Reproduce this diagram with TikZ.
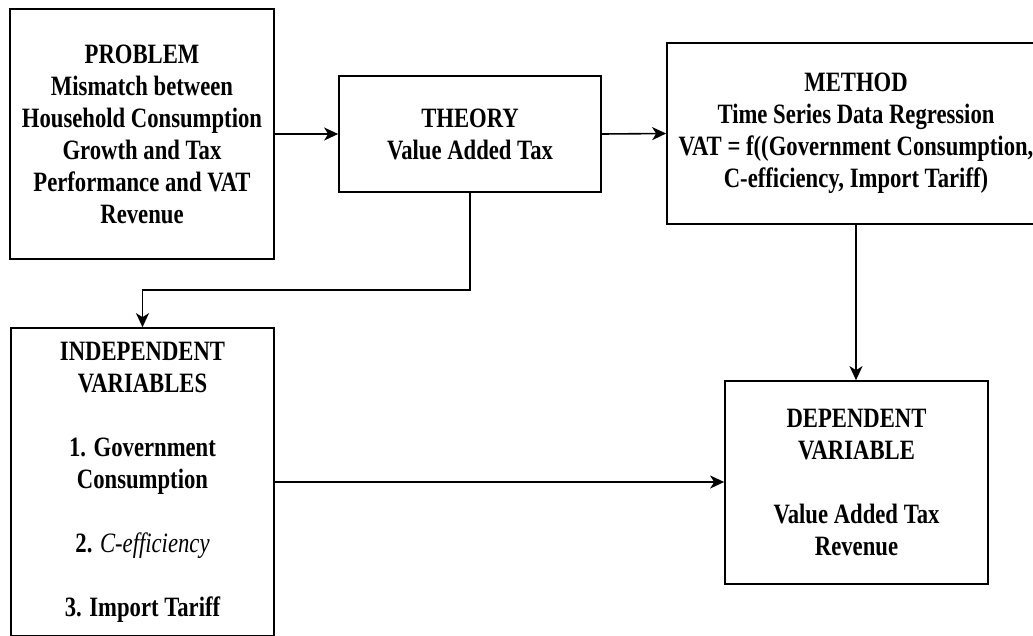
\documentclass[tikz,border=0pt]{standalone}
\usepackage{fontspec}
\setmainfont{Liberation Serif}[FakeStretch=0.81]
\usetikzlibrary{arrows.meta}
\begin{document}
\begin{tikzpicture}[x=1pt,y=-1pt,
  box/.style={draw=black, line width=1.7pt, inner sep=0pt, align=center,
    font=\fontsize{28}{32}\selectfont\bfseries},
  arr/.style={line width=1.6pt, -{Stealth[length=14pt,width=13pt,inset=4pt]}}]
\useasboundingbox (0,0) rectangle (1033,635);
\clip (0,0) rectangle (1033,635);
\fill[white] (0,0) rectangle (1033,635);
\node[box, minimum width=264pt, minimum height=250pt] (prob) at (142,134)
  {PROBLEM\\Mismatch between\\Household Consumption\\Growth and Tax\\Performance and VAT\\Revenue};
\node[box, minimum width=262pt, minimum height=116pt] (theory) at (470,134)
  {THEORY\\Value Added Tax};
\node[box, minimum width=378pt, minimum height=181pt] (method) at (856,133.5)
  {METHOD\\Time Series Data Regression\\VAT = f((Government Consumption,\\C-efficiency, Import Tariff)};
\node[box, minimum width=263pt, minimum height=308pt] (indep) at (142.5,482)
  {INDEPENDENT\\VARIABLES\\[32pt]1. Government\\Consumption\\[32pt]2. \textmd{\textit{C-efficiency}}\\[32pt]3. Import Tariff};
\node[box, minimum width=263pt, minimum height=203pt] (dep) at (856.5,482.5)
  {DEPENDENT\\VARIABLE\\[32pt]Value Added Tax\\Revenue};
\coordinate (elbow) at (470,290);
\draw[arr] (prob.east) -- (theory.west);
\draw[arr] (theory.east) -- (method.west);
\draw[arr] (theory.south) -- (elbow) -| (indep.north);
\draw[arr] (method.south) -- (method.south |- dep.north);
\draw[arr] (indep.east) -- (indep.east -| dep.west);
\end{tikzpicture}
\end{document}
